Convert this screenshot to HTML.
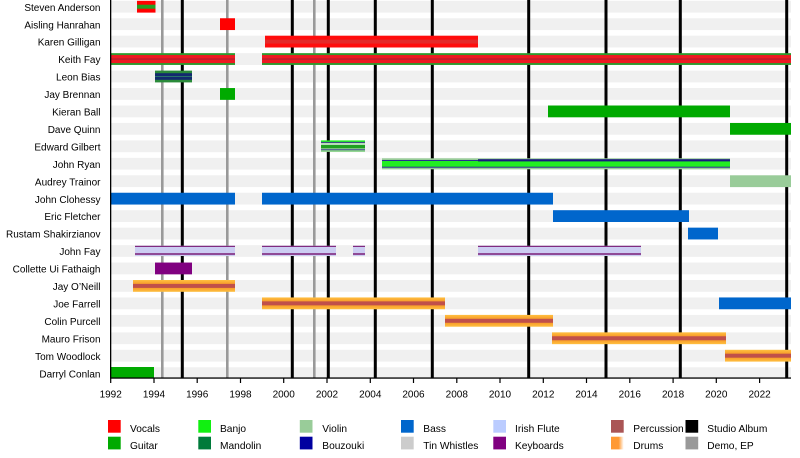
<!DOCTYPE html>
<html>
<head>
<meta charset="utf-8">
<style>
  html, body { margin: 0; padding: 0; background: #ffffff; }
  svg { display: block; }
  text { font-family: "Liberation Sans", Arial, sans-serif; fill: #000; }
</style>
</head>
<body>
<svg width="800" height="458" viewBox="0 0 800 458" xmlns="http://www.w3.org/2000/svg">
  <defs>
    <linearGradient id="drumsV" x1="0" y1="0" x2="0" y2="1">
      <stop offset="0" stop-color="#ffc040"/>
      <stop offset="0.3" stop-color="#f8a02c"/>
      <stop offset="0.7" stop-color="#f8a02c"/>
      <stop offset="1" stop-color="#ffc040"/>
    </linearGradient>
    <linearGradient id="drumsH" x1="0" y1="0" x2="1" y2="0">
      <stop offset="0" stop-color="#ff9933"/>
      <stop offset="0.6" stop-color="#ff9933"/>
      <stop offset="1" stop-color="#ffffff"/>
    </linearGradient>
  </defs>
  <rect x="0" y="0" width="800" height="458" fill="#ffffff"/>

  <!-- background bands -->
  <g fill="#f0f0f0">
    <rect x="110.5" y="0.8" width="680.5" height="11.8"/>
    <rect x="110.5" y="18.25" width="680.5" height="11.8"/>
    <rect x="110.5" y="35.7" width="680.5" height="11.8"/>
    <rect x="110.5" y="53.15" width="680.5" height="11.8"/>
    <rect x="110.5" y="70.6" width="680.5" height="11.8"/>
    <rect x="110.5" y="88.05" width="680.5" height="11.8"/>
    <rect x="110.5" y="105.5" width="680.5" height="11.8"/>
    <rect x="110.5" y="122.95" width="680.5" height="11.8"/>
    <rect x="110.5" y="140.4" width="680.5" height="11.8"/>
    <rect x="110.5" y="157.85" width="680.5" height="11.8"/>
    <rect x="110.5" y="175.3" width="680.5" height="11.8"/>
    <rect x="110.5" y="192.75" width="680.5" height="11.8"/>
    <rect x="110.5" y="210.2" width="680.5" height="11.8"/>
    <rect x="110.5" y="227.65" width="680.5" height="11.8"/>
    <rect x="110.5" y="245.1" width="680.5" height="11.8"/>
    <rect x="110.5" y="262.55" width="680.5" height="11.8"/>
    <rect x="110.5" y="280.0" width="680.5" height="11.8"/>
    <rect x="110.5" y="297.45" width="680.5" height="11.8"/>
    <rect x="110.5" y="314.9" width="680.5" height="11.8"/>
    <rect x="110.5" y="332.35" width="680.5" height="11.8"/>
    <rect x="110.5" y="349.8" width="680.5" height="11.8"/>
    <rect x="110.5" y="367.25" width="680.5" height="10.75"/>
  </g>

  <!-- demo / EP lines -->
  <g fill="#999999">
    <rect x="161" y="0" width="2.6" height="378"/>
    <rect x="226" y="0" width="2.6" height="378"/>
    <rect x="313" y="0" width="2.6" height="378"/>
  </g>
  <!-- studio album lines -->
  <g fill="#000000">
    <rect x="180.8" y="0" width="3" height="378"/>
    <rect x="290.8" y="0" width="3" height="378"/>
    <rect x="326.8" y="0" width="3" height="378"/>
    <rect x="373.8" y="0" width="3" height="378"/>
    <rect x="430.8" y="0" width="3" height="378"/>
    <rect x="527.2" y="0" width="3" height="378"/>
    <rect x="604.5" y="0" width="3" height="378"/>
    <rect x="678.8" y="0" width="3" height="378"/>
    <rect x="785.2" y="0" width="3" height="378"/>
  </g>

  <!-- Row 0 Steven Anderson -->
  <rect x="137" y="0.8" width="18.5" height="11.8" fill="#ff0000"/>
  <rect x="137" y="4.7" width="18.5" height="4" fill="#22a022"/>

  <!-- Row 1 Aisling Hanrahan -->
  <rect x="220" y="18.25" width="15" height="11.8" fill="#ff0000"/>

  <!-- Row 2 Karen Gilligan -->
  <rect x="265" y="35.7" width="213" height="11.8" fill="#ff0d0d"/>
  <rect x="265" y="39.6" width="213" height="4" fill="#e42a2a"/>

  <!-- Row 3 Keith Fay -->
  <rect x="110.5" y="53.15" width="124.5" height="11.8" fill="#2e9a2e"/>
  <rect x="110.5" y="55.05" width="124.5" height="8" fill="#ee1a22"/>
  <rect x="110.5" y="58.55" width="124.5" height="1" fill="#a02030"/>
  <rect x="262" y="53.15" width="529" height="11.8" fill="#2e9a2e"/>
  <rect x="262" y="55.05" width="529" height="8" fill="#ee1a22"/>
  <rect x="262" y="58.55" width="529" height="1" fill="#a02030"/>

  <!-- Row 4 Leon Bias -->
  <rect x="155" y="70.6" width="37" height="11.8" fill="#2a8a3a"/>
  <rect x="155" y="73.2" width="37" height="6.6" fill="#122a6e"/>
  <rect x="155" y="76.1" width="37" height="0.9" fill="#2a7a6a"/>

  <!-- Row 5 Jay Brennan -->
  <rect x="220" y="88.05" width="15" height="11.8" fill="#00aa00"/>

  <!-- Row 6 Kieran Ball -->
  <rect x="548" y="105.5" width="182" height="11.8" fill="#00aa00"/>

  <!-- Row 7 Dave Quinn -->
  <rect x="730" y="122.95" width="61" height="11.8" fill="#00aa00"/>

  <!-- Row 8 Edward Gilbert -->
  <rect x="321" y="140.4" width="44" height="11.4" fill="#22ee22"/>
  <rect x="321" y="141.9" width="44" height="8.4" fill="#303880"/>
  <rect x="321" y="142.9" width="44" height="6.4" fill="#b8dcb8"/>
  <rect x="321" y="145" width="44" height="3.4" fill="#1fa01f"/>
  <rect x="321" y="150.3" width="44" height="1.5" fill="#9cd09c"/>

  <!-- Row 9 John Ryan -->
  <rect x="382" y="158.3" width="348" height="11" fill="#99cc99"/>
  <rect x="382" y="160" width="348" height="7.7" fill="#283090"/>
  <rect x="382" y="161" width="348" height="5.7" fill="#22ee22"/>
  <rect x="478" y="159.2" width="252" height="2.2" fill="#1a1a80"/>

  <!-- Row 10 Audrey Trainor -->
  <rect x="730" y="175.3" width="61" height="11.8" fill="#99cc99"/>

  <!-- Row 11 John Clohessy -->
  <rect x="110.5" y="192.75" width="124.5" height="11.8" fill="#0066cc"/>
  <rect x="262" y="192.75" width="291" height="11.8" fill="#0066cc"/>

  <!-- Row 12 Eric Fletcher -->
  <rect x="553" y="210.2" width="136" height="11.8" fill="#0066cc"/>

  <!-- Row 13 Rustam Shakirzianov -->
  <rect x="688" y="227.65" width="30" height="11.8" fill="#0066cc"/>

  <!-- Row 14 John Fay -->
  <g>
    <rect x="135" y="245.8" width="100" height="10.2" fill="#cccdf2"/>
    <rect x="135" y="245.8" width="100" height="1.2" fill="#802a80"/>
    <rect x="135" y="253.2" width="100" height="1.6" fill="#802a80"/>
    <rect x="262" y="245.8" width="74" height="10.2" fill="#cccdf2"/>
    <rect x="262" y="245.8" width="74" height="1.2" fill="#802a80"/>
    <rect x="262" y="253.2" width="74" height="1.6" fill="#802a80"/>
    <rect x="353" y="245.8" width="12" height="10.2" fill="#cccdf2"/>
    <rect x="353" y="245.8" width="12" height="1.2" fill="#802a80"/>
    <rect x="353" y="253.2" width="12" height="1.6" fill="#802a80"/>
    <rect x="478" y="245.8" width="163" height="10.2" fill="#cccdf2"/>
    <rect x="478" y="245.8" width="163" height="1.2" fill="#802a80"/>
    <rect x="478" y="253.2" width="163" height="1.6" fill="#802a80"/>
  </g>

  <!-- Row 15 Collette Ui Fathaigh -->
  <rect x="155" y="262.55" width="37" height="11.8" fill="#800080"/>

  <!-- Row 16 Jay O'Neill -->
  <rect x="133" y="280.0" width="102" height="11.8" fill="url(#drumsV)"/>
  <rect x="133" y="283.9" width="102" height="4" fill="#c0504a"/>

  <!-- Row 17 Joe Farrell -->
  <rect x="262" y="297.45" width="183" height="11.8" fill="url(#drumsV)"/>
  <rect x="262" y="301.35" width="183" height="4" fill="#c0504a"/>
  <rect x="719" y="297.45" width="72" height="11.8" fill="#0066cc"/>

  <!-- Row 18 Colin Purcell -->
  <rect x="445" y="314.9" width="108" height="11.8" fill="url(#drumsV)"/>
  <rect x="445" y="318.8" width="108" height="4" fill="#c0504a"/>

  <!-- Row 19 Mauro Frison -->
  <rect x="552" y="332.35" width="174" height="11.8" fill="url(#drumsV)"/>
  <rect x="552" y="336.25" width="174" height="4" fill="#c0504a"/>

  <!-- Row 20 Tom Woodlock -->
  <rect x="725" y="349.8" width="66" height="11.8" fill="url(#drumsV)"/>
  <rect x="725" y="353.7" width="66" height="4" fill="#c0504a"/>

  <!-- Row 21 Darryl Conlan -->
  <rect x="110.5" y="367.0" width="43.5" height="11" fill="#00aa00"/>

  <!-- axes -->
  <rect x="110" y="0" width="1.3" height="378.6" fill="#000"/>
  <rect x="110" y="377.4" width="681" height="1.3" fill="#000"/>
  <g fill="#000">
    <rect x="110.1" y="378" width="1.2" height="5"/>
    <rect x="153.4" y="378" width="1.2" height="5"/>
    <rect x="196.6" y="378" width="1.2" height="5"/>
    <rect x="239.9" y="378" width="1.2" height="5"/>
    <rect x="283.1" y="378" width="1.2" height="5"/>
    <rect x="326.4" y="378" width="1.2" height="5"/>
    <rect x="369.7" y="378" width="1.2" height="5"/>
    <rect x="412.9" y="378" width="1.2" height="5"/>
    <rect x="456.2" y="378" width="1.2" height="5"/>
    <rect x="499.4" y="378" width="1.2" height="5"/>
    <rect x="542.7" y="378" width="1.2" height="5"/>
    <rect x="585.9" y="378" width="1.2" height="5"/>
    <rect x="629.2" y="378" width="1.2" height="5"/>
    <rect x="672.5" y="378" width="1.2" height="5"/>
    <rect x="715.7" y="378" width="1.2" height="5"/>
    <rect x="759.0" y="378" width="1.2" height="5"/>
  </g>
  <g font-size="10" text-anchor="middle">
    <text x="110.7" y="397.5">1992</text>
    <text x="154.0" y="397.5">1994</text>
    <text x="197.2" y="397.5">1996</text>
    <text x="240.5" y="397.5">1998</text>
    <text x="283.7" y="397.5">2000</text>
    <text x="327.0" y="397.5">2002</text>
    <text x="370.3" y="397.5">2004</text>
    <text x="413.5" y="397.5">2006</text>
    <text x="456.8" y="397.5">2008</text>
    <text x="500.0" y="397.5">2010</text>
    <text x="543.3" y="397.5">2012</text>
    <text x="586.5" y="397.5">2014</text>
    <text x="629.8" y="397.5">2016</text>
    <text x="673.1" y="397.5">2018</text>
    <text x="716.3" y="397.5">2020</text>
    <text x="759.6" y="397.5">2022</text>
  </g>

  <!-- row labels -->
  <g font-size="10" text-anchor="end">
    <text x="100.5" y="10.8">Steven Anderson</text>
    <text x="100.5" y="28.25">Aisling Hanrahan</text>
    <text x="100.5" y="45.7">Karen Gilligan</text>
    <text x="100.5" y="63.15">Keith Fay</text>
    <text x="100.5" y="80.6">Leon Bias</text>
    <text x="100.5" y="98.05">Jay Brennan</text>
    <text x="100.5" y="115.5">Kieran Ball</text>
    <text x="100.5" y="132.95">Dave Quinn</text>
    <text x="100.5" y="150.4">Edward Gilbert</text>
    <text x="100.5" y="167.85">John Ryan</text>
    <text x="100.5" y="185.3">Audrey Trainor</text>
    <text x="100.5" y="202.75">John Clohessy</text>
    <text x="100.5" y="220.2">Eric Fletcher</text>
    <text x="100.5" y="237.65">Rustam Shakirzianov</text>
    <text x="100.5" y="255.1">John Fay</text>
    <text x="100.5" y="272.55">Collette Ui Fathaigh</text>
    <text x="100.5" y="290.0">Jay O’Neill</text>
    <text x="100.5" y="307.45">Joe Farrell</text>
    <text x="100.5" y="324.9">Colin Purcell</text>
    <text x="100.5" y="342.35">Mauro Frison</text>
    <text x="100.5" y="359.8">Tom Woodlock</text>
    <text x="100.5" y="377.25">Darryl Conlan</text>
  </g>

  <!-- legend -->
  <g>
    <rect x="108" y="420" width="12.7" height="12.7" fill="#ff0000"/>
    <rect x="108" y="436.7" width="12.7" height="12.7" fill="#00aa00"/>
    <rect x="198.3" y="420" width="12.7" height="12.7" fill="#11f011"/>
    <rect x="198.3" y="436.7" width="12.7" height="12.7" fill="#007a3a"/>
    <rect x="299.8" y="420" width="12.7" height="12.7" fill="#99cc99"/>
    <rect x="299.8" y="436.7" width="12.7" height="12.7" fill="#0000a0"/>
    <rect x="401" y="420" width="12.7" height="12.7" fill="#0066cc"/>
    <rect x="401" y="436.7" width="12.7" height="12.7" fill="#cccccc"/>
    <rect x="493.3" y="420" width="12.7" height="12.7" fill="#bbccff"/>
    <rect x="493.3" y="436.7" width="12.7" height="12.7" fill="#800080"/>
    <rect x="611" y="420" width="12.7" height="12.7" fill="#aa5555"/>
    <rect x="611" y="436.7" width="12.7" height="12.7" fill="url(#drumsH)"/>
    <rect x="685.5" y="420" width="12.7" height="12.7" fill="#000000"/>
    <rect x="685.5" y="436.7" width="12.7" height="12.7" fill="#999999"/>
  </g>
  <g font-size="10.2">
    <text x="130" y="432">Vocals</text>
    <text x="130" y="449">Guitar</text>
    <text x="220" y="432">Banjo</text>
    <text x="220" y="449">Mandolin</text>
    <text x="322.3" y="432">Violin</text>
    <text x="322.3" y="449">Bouzouki</text>
    <text x="423.3" y="432">Bass</text>
    <text x="423.3" y="449">Tin Whistles</text>
    <text x="515" y="432">Irish Flute</text>
    <text x="515" y="449">Keyboards</text>
    <text x="633.3" y="432">Percussion</text>
    <text x="633.3" y="449">Drums</text>
    <text x="707.3" y="432">Studio Album</text>
    <text x="707.3" y="449">Demo, EP</text>
  </g>
</svg>
</body>
</html>
